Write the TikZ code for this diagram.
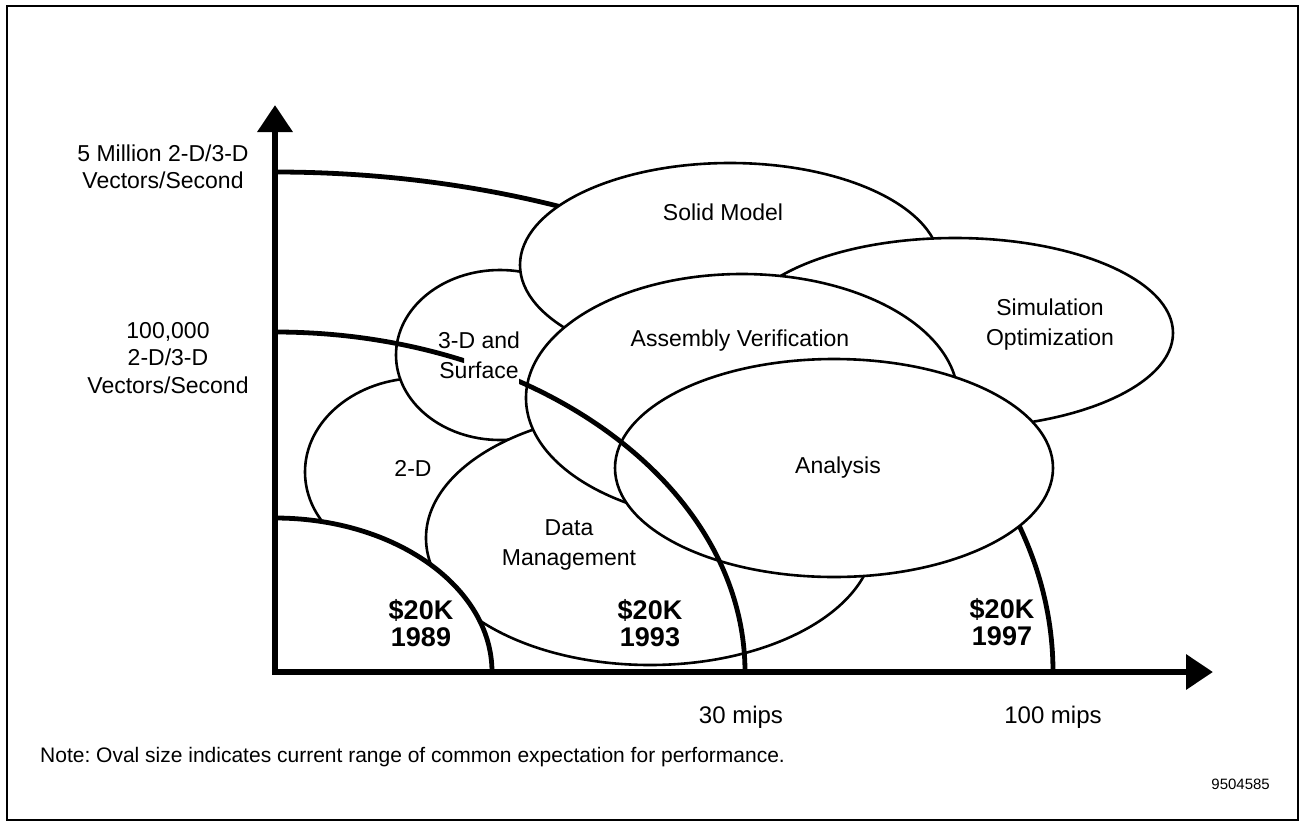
\documentclass[tikz,border=0pt]{standalone}
\usepackage{fontspec}
\setmainfont{Liberation Sans}
\usetikzlibrary{shapes.geometric,arrows.meta}
\frenchspacing
\begin{document}
\begin{tikzpicture}[x=1pt,y=-1pt,
  oval/.style={ellipse,draw,fill=white,line width=2.6pt,inner sep=0pt},
  lbl/.style={font=\fontsize{23}{30}\selectfont,align=center,inner sep=0pt},
  axlbl/.style={font=\fontsize{23}{27.5}\selectfont,align=center,inner sep=0pt},
  yrs/.style={font=\fontsize{27}{27}\selectfont\bfseries,align=center,inner sep=0pt},
  bound/.style={line width=4.8pt},
  axis/.style={line width=6.5pt,-{Triangle[length=27pt,width=34pt]}}]
\useasboundingbox (0,0) rectangle (1304,825);
\draw[line width=2pt] (7,6) rectangle (1298,820);
% coordinates
\coordinate (origin) at (275,672);
\coordinate (ytip) at (275,105);
\coordinate (xtip) at (1213,672);
\coordinate (a97) at (275,172);
\coordinate (a93) at (275,332);
\coordinate (a89) at (275,518);
% 1997 boundary (behind the ovals)
\draw[bound] (a97) arc[start angle=90,end angle=0,x radius=778pt,y radius=500pt];
% ovals, bottom to top
\node[oval,minimum width=230pt,minimum height=188pt] (twod) at (420,472) {};
\node[oval,minimum width=208pt,minimum height=170pt] (threed) at (500,355) {};
\node[oval,minimum width=420pt,minimum height=204pt] (solid) at (730,265) {};
\node[oval,minimum width=436pt,minimum height=190pt] (sim) at (955,333) {};
\node[oval,minimum width=448pt,minimum height=254pt] (dm) at (650,538) {};
\node[oval,minimum width=432pt,minimum height=248pt] (av) at (742,398) {};
\node[oval,minimum width=438pt,minimum height=218pt] (an) at (834,468) {};
% oval labels
\node[lbl] (lsolid) at (723,212) {Solid Model};
\node[lbl] (lsim) at (1050,325) {Simulation\\Optimization};
\node[lbl] (lthreed) at (479,355) {3-D and\\Surface};
\node[lbl] (lav) at (740,341) {Assembly Verification};
\node[lbl] (ltwod) at (413,468) {2-D};
\node[lbl] (ldm) at (569,545) {Data\\Management};
\node[lbl] (lan) at (838,468) {Analysis};
% 1993 boundary (over the ovals, broken at the text)
\begin{scope}
\clip (0,0) rectangle (464,825) (519,0) rectangle (1304,825);
\draw[bound] (a93) arc[start angle=90,end angle=0,x radius=470pt,y radius=340pt];
\end{scope}
% 1989 boundary (white region on top)
\fill[white] (a89) arc[start angle=90,end angle=0,x radius=217pt,y radius=154pt] -- (origin) -- cycle;
\draw[bound] (a89) arc[start angle=90,end angle=0,x radius=217pt,y radius=154pt];
% axes
\draw[axis,line cap=rect] (origin) -- (ytip);
\draw[axis,line cap=rect] (origin) -- (xtip);
% year labels
\node[yrs] (y89) at (421,623) {\$20K\\1989};
\node[yrs] (y93) at (650,623) {\$20K\\1993};
\node[yrs] (y97) at (1002,622) {\$20K\\1997};
% axis labels
\node[axlbl] (v5m) at (163,167) {5 Million 2-D/3-D\\Vectors/Second};
\node[axlbl] (v100k) at (168,358) {100,000\\2-D/3-D\\Vectors/Second};
\node[lbl,font=\fontsize{24}{28}\selectfont] (m30) at (741,717) {30 mips};
\node[lbl,font=\fontsize{24}{28}\selectfont] (m100) at (1053,717) {100 mips};
\node[lbl,font=\fontsize{21}{24}\selectfont,anchor=west] (note) at (40,757) {Note: Oval size indicates current range of common expectation for performance.};
\node[lbl,font=\fontsize{15}{18}\selectfont,anchor=east] (code) at (1270,784) {9504585};
\end{tikzpicture}
\end{document}
